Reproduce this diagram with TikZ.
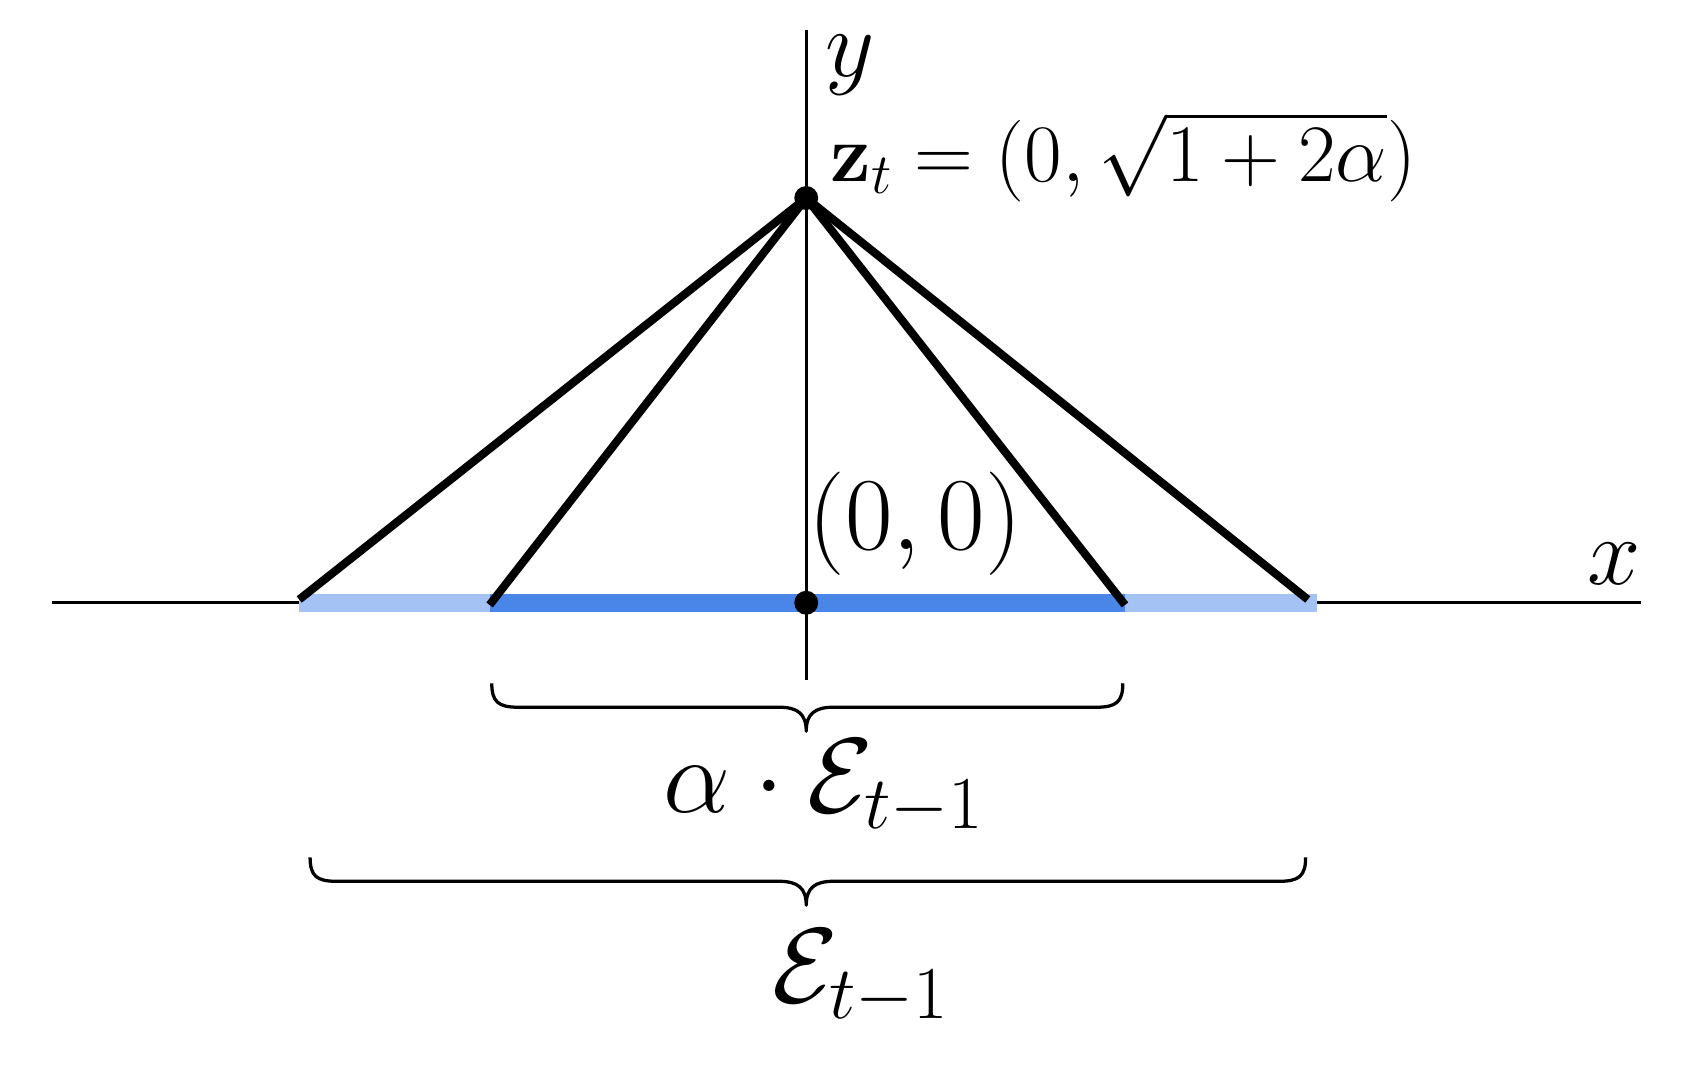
\RequirePackage{fix-cm}
\documentclass[tikz,border=0pt]{standalone}
\usepackage{amsmath}
\definecolor{lightband}{HTML}{A4C2F4}
\definecolor{darkband}{HTML}{4A86E8}
\begin{document}
\begin{tikzpicture}[x=1pt,y=-1pt,
  axis/.style={line width=3pt},
  ray/.style={line width=7.5pt},
  band/.style={line width=17pt},
  bracestyle/.style={line width=3pt, line join=round},
  lbl/.style={inner sep=0pt, font=\fontsize{88}{100}\selectfont},
  olbl/.style={inner sep=0pt, font=\fontsize{95}{110}\selectfont},
  blbl/.style={inner sep=0pt, font=\fontsize{98}{110}\selectfont},
  zlbl/.style={inner sep=0pt, font=\fontsize{75}{90}\selectfont},
  dot/.style={circle, fill=black, inner sep=0pt, minimum size=22pt}]
\useasboundingbox (0,0) rectangle (1568,991);
% coordinates
\coordinate (xl) at (48,554);
\coordinate (xr) at (1508,554);
\coordinate (yt) at (741,28);
\coordinate (yb) at (741,625);
\coordinate (L1) at (275,554);
\coordinate (R1) at (1210,554);
\coordinate (L2) at (450,554);
\coordinate (R2) at (1034,554);
\coordinate (a1) at (275,551);
\coordinate (a2) at (450,556);
\coordinate (a3) at (1034,556);
\coordinate (a4) at (1202,551);
% axes
\draw[axis] (xl) -- (xr);
\draw[axis] (yt) -- (yb);
% bands
\draw[band, lightband] (L1) -- (R1);
\draw[band, darkband] (L2) -- (R2);
% dots
\node[dot] (z) at (741,182) {};
\node[dot] (o) at (741,554) {};
% rays
\draw[ray] (z.center) -- (a1);
\draw[ray] (z.center) -- (a2);
\draw[ray] (z.center) -- (a3);
\draw[ray] (z.center) -- (a4);
% braces
\draw[bracestyle] (452,628) .. controls (452,645) and (458,650) .. (476,650)
  -- (716,650) .. controls (733,650) and (741,656) .. (741,672)
  .. controls (741,656) and (749,650) .. (766,650)
  -- (1008,650) .. controls (1026,650) and (1032,645) .. (1032,628);
\draw[bracestyle] (285,788) .. controls (285,805) and (291,810) .. (309,810)
  -- (716,810) .. controls (733,810) and (741,816) .. (741,832)
  .. controls (741,816) and (749,810) .. (766,810)
  -- (1176,810) .. controls (1194,810) and (1200,805) .. (1200,788);
% labels
\node[lbl] (ylab) at (781,60) {$y$};
\node[lbl] (xlab) at (1484,518) {$x$};
\node[zlbl, anchor=base west] (zlab) at (763,167) {$\mathbf{z}_t = (0,\sqrt{1+2\alpha})$};
\node[olbl, anchor=base west] (olab) at (743,505) {$(0,0)$};
\node[blbl, anchor=base] (alab) at (757,747) {$\alpha\cdot\mathcal{E}_{t-1}$};
\node[blbl, anchor=base] (elab) at (791,921) {$\mathcal{E}_{t-1}$};
\end{tikzpicture}
\end{document}
